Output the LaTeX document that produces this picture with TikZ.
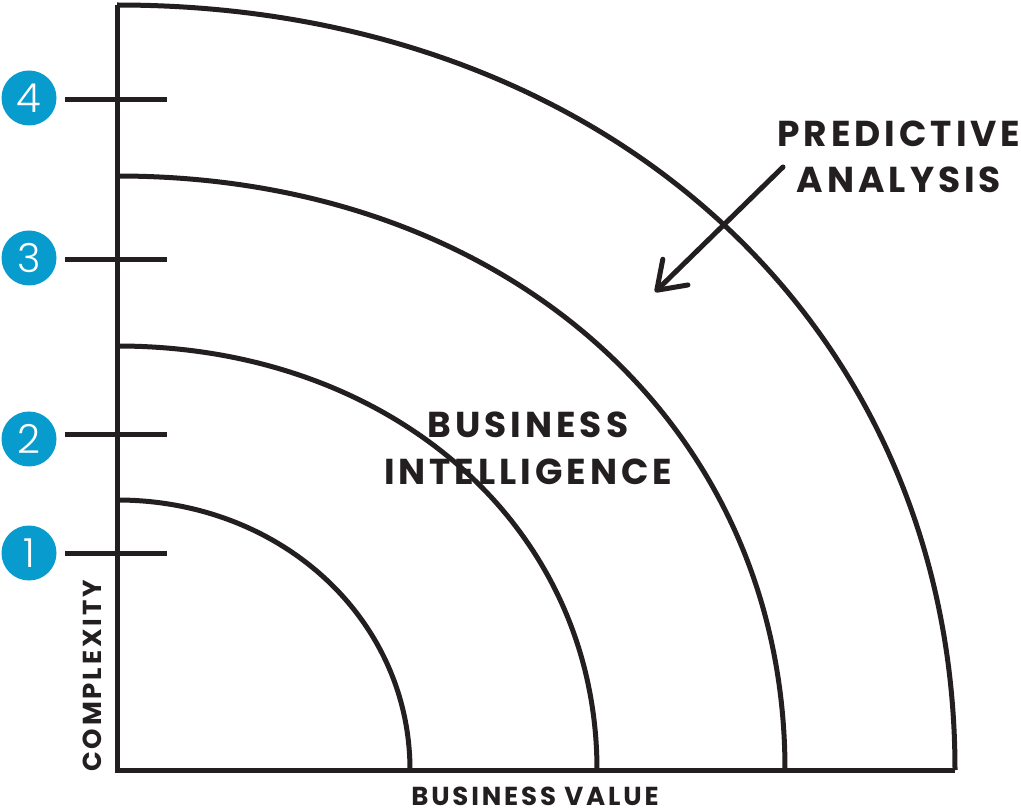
\documentclass[tikz,border=0pt]{standalone}
\usepackage{fontspec}
\setmainfont{Poppins}
\newfontfamily\demifont{Poppins Bold}[LetterSpace=11]
\newfontfamily\lightfont{Poppins Light}
\usetikzlibrary{arrows.meta}
\definecolor{ink}{RGB}{35,31,32}
\definecolor{badgeblue}{RGB}{8,155,206}
\tikzset{
  heavy/.style={draw=ink, line width=5pt},
  badge/.style={circle, fill=badgeblue, minimum size=55pt, inner sep=0pt, text=white, font=\lightfont\fontsize{40}{42}\selectfont},
  bigtitle/.style={anchor=base, text=ink, inner sep=0pt, font=\demifont\fontsize{36}{40}\selectfont},
  axistitle/.style={anchor=base, text=ink, inner sep=0pt, text depth=0pt, font=\demifont\fontsize{26}{30}\selectfont},
}
\begin{document}
\begin{tikzpicture}[x=1pt,y=-1pt]
\fill[white] (0,0) rectangle (1021,810);
\useasboundingbox (0,0) rectangle (1021,810);
% axes
\coordinate (top) at (117,5);
\coordinate (origin) at (117,770);
\coordinate (right) at (955,770);
\draw[heavy, line join=miter] (top) -- (origin) -- (right);
% arcs
\coordinate (a1s) at (117,500); \coordinate (a1e) at (410,770);
\coordinate (a2s) at (117,346); \coordinate (a2e) at (597,770);
\coordinate (a3s) at (117,176); \coordinate (a3e) at (785,770);
\draw[heavy] (a1s) .. controls (281,500) and (410,619) .. (a1e);
\draw[heavy] (a2s) .. controls (390,346) and (597,525) .. (a2e);
\draw[heavy] (a3s) .. controls (506,176) and (785,425) .. (a3e);
\draw[heavy] (top) .. controls (606,5) and (955,325) .. (right);
% ticks
\foreach \y/\n in {100/4,260/3,435/2,553/1}{
  \coordinate (tl\n) at (65,\y);
  \coordinate (tr\n) at (167,\y);
  \draw[heavy] (tl\n) -- (tr\n);
}
\node[badge] (b4) at (29,98) {4};
\node[badge] (b3) at (29,258) {3};
\node[badge] (b2) at (29,439) {2};
\node[badge] (b1) at (29,553) {1};
% labels
\node[bigtitle] (pred) at (899,147) {PREDICTIVE};
\node[bigtitle] (anal) at (899,193) {ANALYSIS};
\node[bigtitle] (bus) at (528,438) {BUSINESS};
\node[bigtitle] (intel) at (528,485) {INTELLIGENCE};
\node[axistitle] (bv) at (535,805) {BUSINESS VALUE};
\node[axistitle, rotate=90] (cx) at (101,676) {COMPLEXITY};
% arrow
\coordinate (arrS) at (783,167);
\coordinate (arrE) at (655,292);
\draw[heavy, line cap=round, -{Straight Barb[length=26pt,width=36pt,round]}] (arrS) -- (arrE);
\end{tikzpicture}
\end{document}
